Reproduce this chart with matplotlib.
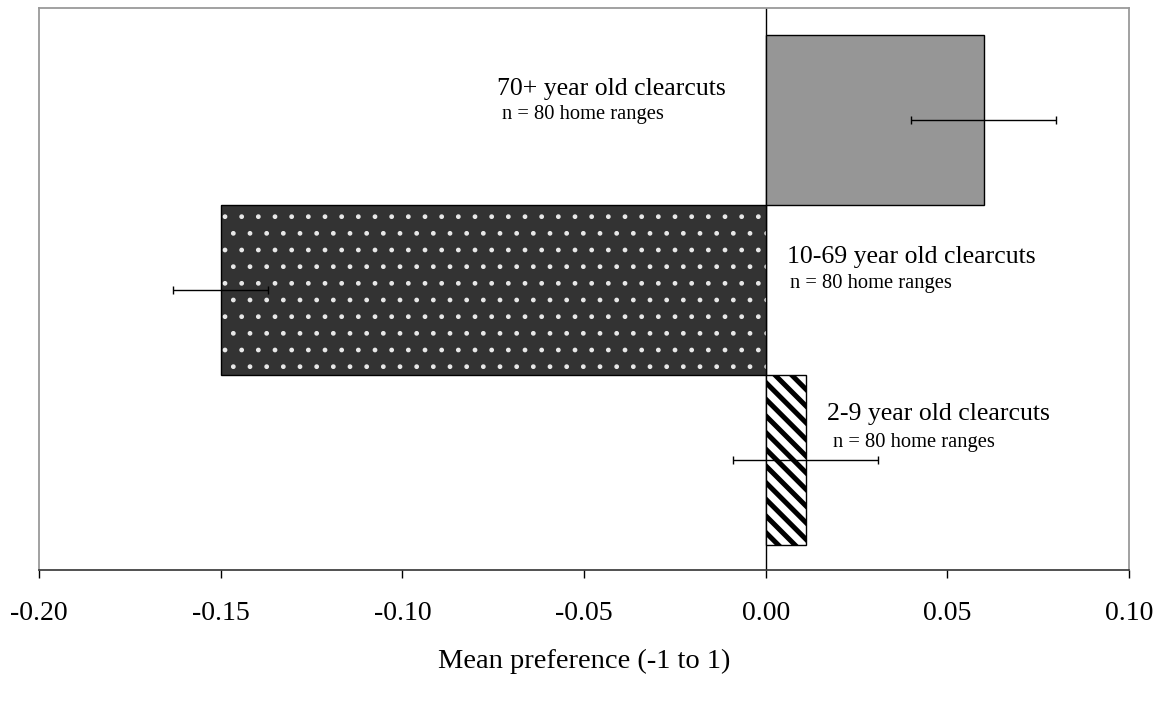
import matplotlib
matplotlib.use("Agg")
import matplotlib.pyplot as plt

# values (bottom to top)
categories = ["2-9 year old clearcuts", "10-69 year old clearcuts", "70+ year old clearcuts"]
means = [0.011, -0.150, 0.060]
errors = [0.020, 0.013, 0.020]
n_ranges = [80, 80, 80]
xticks = [-0.20, -0.15, -0.10, -0.05, 0.00, 0.05, 0.10]

plt.rcParams["font.family"] = ["Liberation Serif", "DejaVu Serif"]
plt.rcParams["axes.unicode_minus"] = False

fig = plt.figure(figsize=(11.71, 7.11), dpi=100)
ax = fig.add_axes([39 / 1171, 1 - 570 / 711, 1090 / 1171, 562 / 711])

ypos = list(range(len(categories)))
styles = [
    dict(facecolor="white", hatch_color="black", hatch="\\\\", hlw=3.6),
    dict(facecolor="#333333", hatch_color="#e8e8e8", hatch=".", hlw=1.0),
    dict(facecolor="#969696", hatch_color=None, hatch=None, hlw=1.0),
]

for y, m, st in zip(ypos, means, styles):
    with plt.rc_context({"hatch.linewidth": st["hlw"]}):
        bars = ax.barh(y, m, height=1.0, color=st["facecolor"],
                       edgecolor=st["hatch_color"] or st["facecolor"],
                       hatch=st["hatch"], linewidth=0, zorder=2)
        for b in bars:
            if st["hatch"] and hasattr(b, "set_hatch_linewidth"):
                b.set_hatch_linewidth(st["hlw"])
    # outline on top
    ax.barh(y, m, height=1.0, facecolor="none", edgecolor="black",
            linewidth=1.0, zorder=3)

ax.errorbar(means, ypos, xerr=errors, fmt="none", ecolor="black",
            elinewidth=1.0, capsize=3, capthick=1.0, zorder=4)

# category labels beside bars
label_pos = [(0.0168, 0.235), (0.0058, 1.159), (-0.074, 2.147)]
sub_pos = [(0.0184, 0.076), (0.0066, 1.012), (-0.0727, 2.006)]
for cat, n, (lx, ly), (sx, sy) in zip(categories, n_ranges, label_pos, sub_pos):
    ax.text(lx, ly, cat, fontsize=18.5, ha="left", va="baseline")
    ax.text(sx, sy, f"n = {n} home ranges", fontsize=14.8, ha="left", va="baseline")

ax.axvline(0, color="black", linewidth=1.0, zorder=1)

ax.set_xlim(-0.20, 0.10)
ax.set_ylim(-0.647, 2.659)
ax.set_xticks(xticks)
ax.set_xticklabels([f"{t:.2f}" for t in xticks], fontsize=20)
ax.tick_params(axis="x", direction="out", length=6, width=1.0, pad=16, colors="black")
ax.set_yticks([])

for side in ["left", "right", "top"]:
    ax.spines[side].set_color("#9a9a9a")
    ax.spines[side].set_linewidth(1.3)
ax.spines["bottom"].set_color("#333333")
ax.spines["bottom"].set_linewidth(1.2)

ax.set_xlabel("Mean preference (-1 to 1)", fontsize=20.5, labelpad=17)

fig.savefig("out.png", dpi=100)
